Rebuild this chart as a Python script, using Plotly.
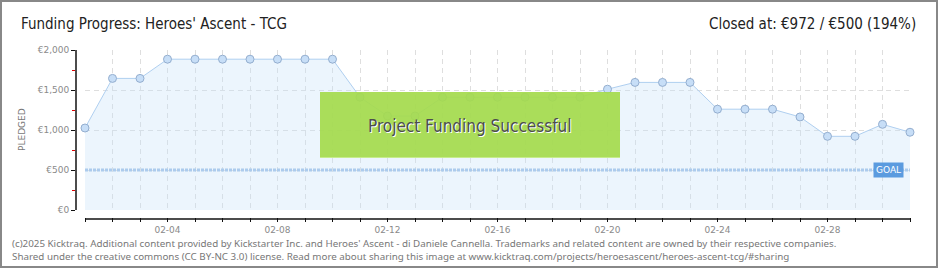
import pandas as pd
import plotly.graph_objects as go

# ---------------- data ----------------
dates = pd.date_range("2025-02-01", "2025-03-03", freq="D")
pledged = [1025, 1645, 1645, 1885, 1885, 1885, 1885, 1885, 1885, 1885,
           1410, 1175, 1175, 1410, 1410, 1410, 1410, 1410, 1410, 1510,
           1595, 1595, 1595, 1260, 1260, 1260, 1163, 921, 921, 1071, 972]
goal = 500
y_ticks = [0, 500, 1000, 1500, 2000]
y_ticktext = ["€0", "€500", "€1,000", "€1,500", "€2,000"]
y_minor = [250, 750, 1250, 1750]
x_label_days = ["02-04", "02-08", "02-12", "02-16", "02-20", "02-24", "02-28"]
title_left = "Funding Progress: Heroes' Ascent - TCG"
title_right = "Closed at: €972 / €500 (194%)"
footer1 = ("(c)2025 Kicktraq. Additional content provided by Kickstarter Inc. and Heroes' Ascent - di "
           "Daniele Cannella. Trademarks and related content are owned by their respective companies.")
footer2 = ("Shared under the creative commons (CC BY-NC 3.0) license. Read more about sharing this image at "
           "www.kicktraq.com/projects/heroesascent/heroes-ascent-tcg/#sharing")

# ---------------- geometry (pixels) ----------------
W, H = 940, 270
PL, PR, PT, PB = 76, 911, 50, 217          # main plot area (axes)
DL, DR, DT, DB = 85, 910, 50, 210          # data area
pw, ph = PR - PL, PB - PT


def px(x):
    return (x - PL) / pw


def py(y):
    return (PB - y) / ph


day_px = (DR - DL) / (len(dates) - 1)
x_main_range = [dates[0] - pd.Timedelta(days=(DL - PL) / day_px),
                dates[-1] + pd.Timedelta(days=(PR - DR) / day_px)]
y_per_px = 2000 / (DB - DT)
y_main_range = [-(PB - DB) * y_per_px, 2000]

tick_text = [d.strftime("%m-%d") if d.strftime("%m-%d") in x_label_days else "" for d in dates]

fig = go.Figure()

# invisible helper so the main (tick) axes exist
fig.add_trace(go.Scatter(x=[dates[0]], y=[0], mode="none", showlegend=False,
                         hoverinfo="skip", xaxis="x", yaxis="y"))

# goal line
fig.add_trace(go.Scatter(x=[dates[0], dates[-1]], y=[goal, goal], mode="lines",
                         line=dict(color="#9DBFE6", width=3, dash="3px,1px"),
                         showlegend=False, hoverinfo="skip", xaxis="x2", yaxis="y2"))

# pledged series
fig.add_trace(go.Scatter(x=dates, y=pledged, mode="lines+markers", fill="tozeroy",
                         fillcolor="rgba(200,225,250,0.35)",
                         line=dict(color="#AFCFF0", width=1),
                         marker=dict(size=8, color="#C7DEF7", line=dict(color="#94AECF", width=1)),
                         cliponaxis=False, showlegend=False, xaxis="x2", yaxis="y2"))

font_ax = dict(family="DejaVu Sans", size=9, color="#8a8a8a")
font_title = "DejaVu Sans Condensed, Liberation Sans Narrow"

fig.update_layout(
    width=W, height=H, autosize=False,
    margin=dict(l=PL, r=W - PR, t=PT, b=H - PB, pad=0),
    paper_bgcolor="white", plot_bgcolor="rgba(0,0,0,0)",
    showlegend=False,
    xaxis=dict(type="date", range=x_main_range, showgrid=False, zeroline=False, showline=False,
               tickmode="array", tickvals=dates, ticktext=tick_text,
               ticks="outside", ticklen=4, tickwidth=1.2, tickcolor="#111",
               tickfont=font_ax, fixedrange=True, automargin=False),
    yaxis=dict(range=y_main_range, showgrid=False, zeroline=False, showline=False,
               tickmode="array", tickvals=y_ticks, ticktext=y_ticktext,
               ticks="outside", ticklen=4, tickwidth=1.2, tickcolor="#111",
               minor=dict(tickmode="array", tickvals=y_minor, ticks="outside", ticklen=3,
                          tickcolor="#e00000", tickwidth=1.2, showgrid=False),
               tickfont=font_ax, fixedrange=True, automargin=False),
    xaxis2=dict(type="date", domain=[px(DL), px(DR)], range=[dates[0], dates[-1]], anchor="y2",
                showgrid=True, gridcolor="#dedede", griddash="5px,4px", gridwidth=1,
                tick0=dates[0], dtick=86400000, showticklabels=False, ticks="",
                zeroline=False, showline=False, fixedrange=True),
    yaxis2=dict(domain=[py(DB), py(DT)], range=[0, 2000], anchor="x2",
                showgrid=True, gridcolor="#dedede", griddash="5px,4px", gridwidth=1,
                dtick=500, showticklabels=False, ticks="",
                zeroline=False, showline=False, fixedrange=True),
)

shapes = []
# outer border
shapes.append(dict(type="rect", xref="paper", yref="paper", x0=px(1), x1=px(937), y0=py(1), y1=py(267),
                   line=dict(color="#888888", width=2), fillcolor="rgba(0,0,0,0)", layer="above"))
# y axis line
shapes.append(dict(type="line", xref="paper", yref="y", x0=px(PL), x1=px(PL), y0=0, y1=2000,
                   line=dict(color="#111", width=1.5)))
# x axis line
shapes.append(dict(type="line", xref="x", yref="paper", x0=dates[0], x1=dates[-1], y0=py(219), y1=py(219),
                   line=dict(color="#111", width=1.5)))
# success banner
shapes.append(dict(type="rect", xref="paper", yref="paper", x0=px(320), x1=px(620), y0=py(158), y1=py(92),
                   fillcolor="rgba(165,218,78,0.93)", line=dict(width=0), layer="above"))
shapes.append(dict(type="line", xref="paper", yref="paper", x0=px(320), x1=px(620), y0=py(157.5), y1=py(157.5),
                   line=dict(color="#C6EC8C", width=1), layer="above"))
fig.update_layout(shapes=shapes)

ann = []
ann.append(dict(text=title_left, xref="paper", yref="paper", x=px(19), y=py(24), xanchor="left",
                yanchor="middle", showarrow=False,
                font=dict(family=font_title, size=15, color="#222")))
ann.append(dict(text=title_right, xref="paper", yref="paper", x=px(918), y=py(24), xanchor="right",
                yanchor="middle", showarrow=False,
                font=dict(family=font_title, size=15, color="#222")))
ann.append(dict(text="PLEDGED", xref="paper", yref="paper", x=px(22), y=py(130), xanchor="center",
                yanchor="middle", textangle=-90, showarrow=False,
                font=dict(family="DejaVu Sans", size=9, color="#777")))
ann.append(dict(text="Project Funding Successful", xref="paper", yref="paper", x=px(470), y=py(126),
                xanchor="center", yanchor="middle", showarrow=False,
                font=dict(family=font_title, size=17, color="#4d4d4d",
                          shadow="1px 1px 0px #ffffff")))
ann.append(dict(text="GOAL", xref="x2", yref="y2", x=dates[-1], y=goal, xanchor="right", yanchor="middle",
                xshift=-6, showarrow=False, bgcolor="#5B9BDF", borderpad=2,
                font=dict(family="DejaVu Sans", size=9, color="white")))
ann.append(dict(text=footer1, xref="paper", yref="paper", x=px(10), y=py(243.5), xanchor="left",
                yanchor="middle", showarrow=False,
                font=dict(family="Noto Sans", size=9.8, color="#777")))
ann.append(dict(text=footer2, xref="paper", yref="paper", x=px(10), y=py(256.5), xanchor="left",
                yanchor="middle", showarrow=False,
                font=dict(family="Noto Sans", size=9.8, color="#777")))
fig.update_layout(annotations=ann)

fig.write_html("out.html")
